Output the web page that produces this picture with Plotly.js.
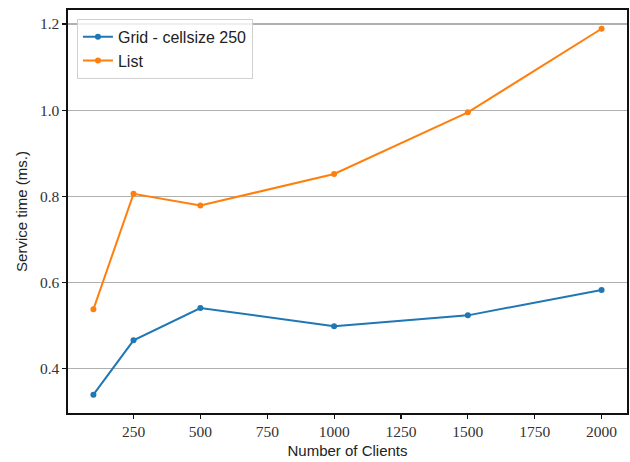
<!DOCTYPE html>
<html>
<head>
<meta charset="utf-8">
<script src="https://cdn.plot.ly/plotly-3.0.1.min.js"></script>
<style>
html,body{margin:0;padding:0;background:#fff;}
#chart{width:630px;height:462px;}
</style>
</head>
<body>
<div id="chart"></div>
<script>
const clients = [100, 250, 500, 1000, 1500, 2000];
const gridTimes = [0.340, 0.466, 0.541, 0.499, 0.524, 0.583];
const listTimes = [0.538, 0.806, 0.779, 0.852, 0.995, 1.189];
const seriesNames = ["Grid - cellsize 250", "List"];
const xTicks = [250, 500, 750, 1000, 1250, 1500, 1750, 2000];
const yTicks = [0.4, 0.6, 0.8, 1.0, 1.2];

const traces = [
  {x: clients, y: gridTimes, name: seriesNames[0], mode: 'lines+markers',
   line: {color: '#1f77b4', width: 2}, marker: {color: '#1f77b4', size: 6}},
  {x: clients, y: listTimes, name: seriesNames[1], mode: 'lines+markers',
   line: {color: '#ff7f0e', width: 2}, marker: {color: '#ff7f0e', size: 6}}
];

const tickFont = {family: 'Liberation Serif', size: 15.5, color: '#333'};
const titleFont = {family: 'Liberation Sans', size: 15, color: '#222'};

const layout = {
  width: 630, height: 462,
  margin: {l: 68, r: 3, t: 10, b: 49},
  paper_bgcolor: '#fff', plot_bgcolor: '#fff',
  showlegend: true,
  legend: {x: 0.016, y: 0.978, xanchor: 'left', yanchor: 'top',
    bgcolor: 'rgba(255,255,255,0.8)', bordercolor: '#d0d0d0', borderwidth: 1,
    font: {family: 'Liberation Sans', size: 16, color: '#222'},
    tracegroupgap: 2},
  xaxis: {
    range: [5, 2095], tickvals: xTicks, ticktext: xTicks.map(String),
    showgrid: false, zeroline: false, showline: true, linecolor: '#111', linewidth: 1.6,
    mirror: true, ticks: 'outside', ticklen: 4, tickcolor: '#111', tickwidth: 1.2,
    tickfont: tickFont,
    title: {text: 'Number of Clients', font: titleFont, standoff: 6}
  },
  yaxis: {
    range: [0.2975, 1.2325], tickvals: yTicks, ticktext: yTicks.map(v => v.toFixed(1)),
    showgrid: true, gridcolor: '#b0b0b0', gridwidth: 1.2, zeroline: false,
    showline: true, linecolor: '#111', linewidth: 1.6, mirror: true,
    ticks: 'outside', ticklen: 4, tickcolor: '#111', tickwidth: 1.2,
    tickfont: tickFont,
    title: {text: 'Service time (ms.)', font: titleFont, standoff: 8}
  }
};

Plotly.newPlot('chart', traces, layout, {displayModeBar: false, staticPlot: true});
</script>
</body>
</html>
